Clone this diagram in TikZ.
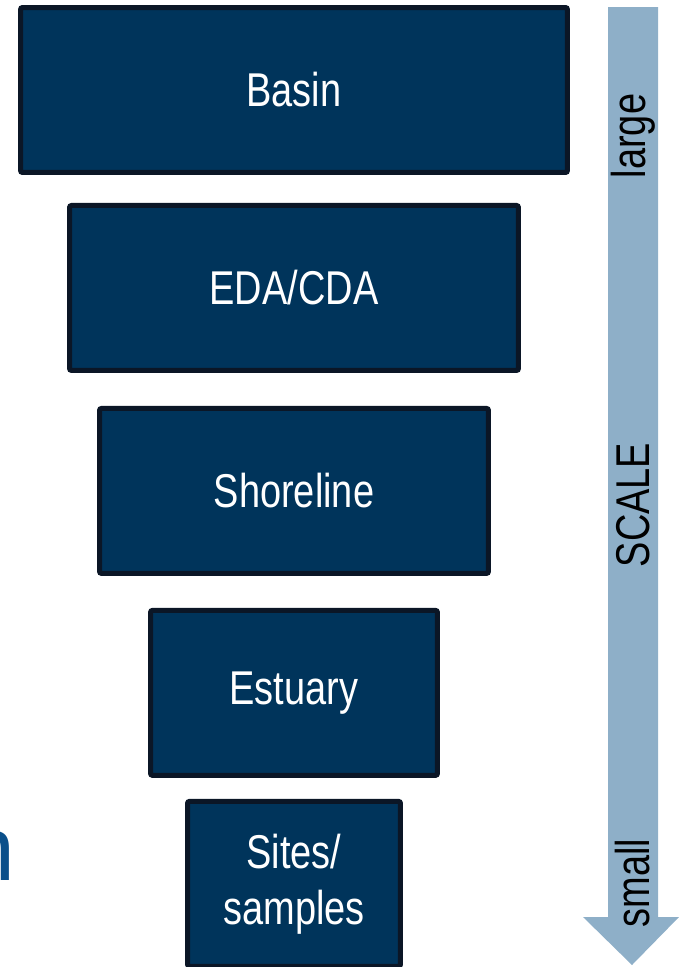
\documentclass[tikz,border=0pt]{standalone}
\usepackage{fontspec}
\setmainfont{Liberation Sans}
\newfontfamily\narrowfont[FakeStretch=0.8]{Liberation Sans}
\usetikzlibrary{positioning}
\definecolor{navy}{HTML}{00345B}
\definecolor{edge}{HTML}{0B1626}
\definecolor{scaleblue}{HTML}{8EAFC8}
\definecolor{titleblue}{HTML}{0A4F8A}

\begin{document}
\begin{tikzpicture}
        [x = 0.02cm, y = -0.02cm,
        level/.style = {rectangle, fill = navy, draw = edge, line width = 0.1cm,
            rounded corners = 0.04cm, minimum height = 3.3cm, text = white,
            align = center, font = {\narrowfont\fontsize{27}{33}\selectfont}},
        scalelabel/.style = {rotate = 90, text = black, inner sep = 0,
            font = {\narrowfont\fontsize{27}{33}\selectfont}}]
        \useasboundingbox (0, 0) rectangle (679, 967);
        % scale arrow
        \fill[scaleblue] (608, 7) -- (658, 7) -- (658, 917) -- (679, 917)
            -- (632, 965) -- (583, 917) -- (608, 917) -- cycle;
        \node[scalelabel] (large) at (633, 136) {large};
        \node[scalelabel] (scale) at (633, 505) {SCALE};
        \node[scalelabel] (small) at (633, 883) {small};
        % levels
        \node[level, minimum width = 10.94cm] (basin) at (294, 90) {Basin};
        \node[level, minimum width = 8.98cm, below = 0.56cm of basin] (eda) {EDA/CDA};
        \node[level, minimum width = 7.78cm, below = 0.66cm of eda] (shore) {Shoreline};
        \node[level, minimum width = 5.74cm, below = 0.64cm of shore] (estuary) {Estuary};
        \node[level, minimum width = 4.26cm, below = 0.42cm of estuary,
            font = {\narrowfont\fontsize{27}{32}\selectfont}] (sites) {Sites/\\samples};
        % cut title
        \node[text = titleblue, inner sep = 0, anchor = south east,
            font = {\fontsize{52}{60}\selectfont}] (title) at (16, 881) {n};
    \end{tikzpicture}
\end{document}
